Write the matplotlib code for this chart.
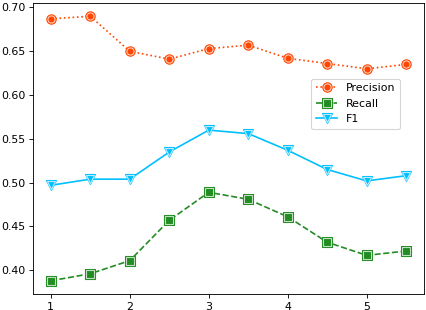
import numpy as np
from matplotlib import pyplot as plt
from matplotlib.legend_handler import HandlerTuple

x = [1, 1.5, 2, 2.5, 3, 3.5, 4, 4.5, 5, 5.5]
precision = [0.687, 0.690, 0.650, 0.641, 0.653, 0.657, 0.642, 0.636, 0.630, 0.635]
recall = [0.388, 0.396, 0.411, 0.457, 0.489, 0.481, 0.461, 0.432, 0.417, 0.422]
f1 = [0.497, 0.504, 0.504, 0.535, 0.560, 0.556, 0.537, 0.515, 0.502, 0.508]

dpi = 79
fig = plt.figure(figsize=(426 / dpi, 310 / dpi), dpi=dpi)
ax = fig.add_axes([33 / 426, 16 / 310, 391 / 426, 291 / 310])

series = [
    ('Precision', precision, 'orangered', 'o', ':'),
    ('Recall', recall, 'forestgreen', 's', '--'),
    ('F1', f1, 'deepskyblue', 'v', '-'),
]
handles = []
labels = []
for name, vals, col, mk, ls in series:
    l1, = ax.plot(x, vals, color=col, linestyle=ls, linewidth=1.5, marker=mk,
                  markersize=8.5, markerfacecolor=col, markeredgecolor=col,
                  markeredgewidth=1.0)
    # lighter inner ring on the markers
    l2, = ax.plot(x, vals, linestyle='none', marker=mk, markersize=6.5,
                  markerfacecolor=col, markeredgecolor='#ffffffbb',
                  markeredgewidth=1.0)
    handles.append((l1, l2))
    labels.append(name)

ax.set_xticks([1, 2, 3, 4, 5])
ax.set_yticks([0.40, 0.45, 0.50, 0.55, 0.60, 0.65, 0.70])
ax.set_yticklabels(['0.40', '0.45', '0.50', '0.55', '0.60', '0.65', '0.70'])
ax.legend(handles, labels, handler_map={tuple: HandlerTuple(ndivide=1)},
          loc='upper right', bbox_to_anchor=(0.939, 0.739), borderaxespad=0)

fig.savefig('out.png', dpi=dpi)
